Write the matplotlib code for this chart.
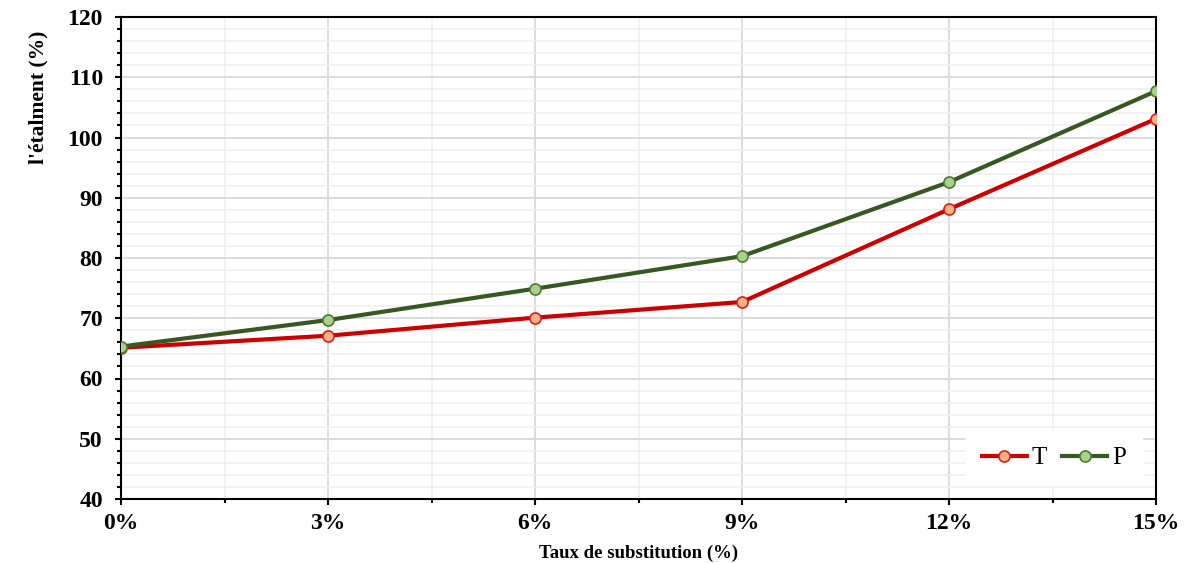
import numpy as np
import matplotlib
matplotlib.use("Agg")
import matplotlib.pyplot as plt
from matplotlib.ticker import MultipleLocator, FuncFormatter

# ── Data ──────────────────────────────────────────────────────────────────────
taux = [0, 3, 6, 9, 12, 15]                      # substitution rate (%)
etalement_T = [65.1, 67.1, 70.1, 72.7, 88.1, 103.1]
etalement_P = [65.3, 69.7, 74.9, 80.3, 92.6, 107.7]

plt.rcParams["font.family"] = ["Liberation Serif", "DejaVu Serif"]

fig = plt.figure(figsize=(11.87, 5.63), dpi=100)
ax = fig.add_axes([121 / 1187, 1 - 499 / 563, (1156 - 121) / 1187, (499 - 17) / 563])

ax.plot(taux, etalement_T, color="#cc0000", lw=3, marker="o", ms=8,
        mfc="#f4b183", mec="#d42020", mew=1.2, label="T", zorder=3)
ax.plot(taux, etalement_P, color="#385723", lw=3, marker="o", ms=8,
        mfc="#a9d18e", mec="#4e7a34", mew=1.2, label="P", zorder=4)

ax.set_xlim(0, 15)
ax.set_ylim(40, 120)
ax.xaxis.set_major_locator(MultipleLocator(3))
ax.xaxis.set_minor_locator(MultipleLocator(1.5))
ax.yaxis.set_major_locator(MultipleLocator(10))
ax.yaxis.set_minor_locator(MultipleLocator(2))
ax.xaxis.set_major_formatter(FuncFormatter(lambda v, _: f"{v:.0f}%"))

ax.grid(True, which="major", color="#d9d9d9", lw=1.3)
ax.grid(True, which="minor", color="#efefef", lw=1.1)
ax.set_axisbelow(True)

ax.tick_params(axis="both", which="both", direction="out", color="black", width=1.5)
ax.tick_params(axis="both", which="major", length=4, labelsize=17)
ax.tick_params(axis="both", which="minor", length=3)
ax.tick_params(axis="x", which="major", pad=6)
ax.tick_params(axis="y", which="major", pad=9)
for lab in ax.get_xticklabels() + ax.get_yticklabels():
    lab.set_fontweight("bold")
for sp in ax.spines.values():
    sp.set_color("black")
    sp.set_linewidth(1.5)

ax.set_xlabel("Taux de substitution (%)", fontsize=13.5, fontweight="bold", labelpad=8)
ax.set_ylabel("l'étalment (%)", fontsize=15.5, fontweight="bold")
ax.yaxis.set_label_coords(-0.0705, 0.834)

leg = ax.legend(loc="center", bbox_to_anchor=(0.9015, 0.085), ncol=2,
                fontsize=18, frameon=True, fancybox=False, edgecolor="white",
                facecolor="white", framealpha=1, handlelength=1.8,
                handletextpad=0.2, columnspacing=0.6, borderpad=0.64)

fig.savefig("out.png", dpi=100)
